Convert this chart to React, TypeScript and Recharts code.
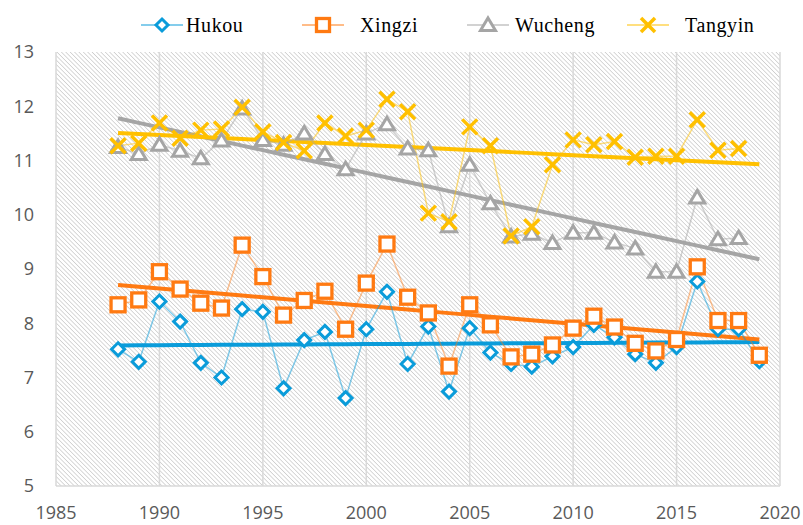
import React from 'react';
import { LineChart, Line, XAxis, YAxis, CartesianGrid, Legend } from 'recharts';

// annual values, 1988 - 2019
const years = [
  1988, 1989, 1990, 1991, 1992, 1993, 1994, 1995, 1996, 1997, 1998, 1999, 2000, 2001, 2002, 2003,
  2004, 2005, 2006, 2007, 2008, 2009, 2010, 2011, 2012, 2013, 2014, 2015, 2016, 2017, 2018, 2019,
];
const hukou = [
  7.52, 7.29, 8.4, 8.03, 7.27, 7.0, 8.26, 8.21, 6.8, 7.69, 7.84, 6.62, 7.89, 8.58, 7.25, 7.94,
  6.74, 7.91, 7.46, 7.25, 7.2, 7.39, 7.56, 7.97, 7.74, 7.43, 7.27, 7.56, 8.77, 7.89, 7.89, 7.3,
];
const xingzi = [
  8.34, 8.43, 8.95, 8.63, 8.37, 8.28, 9.44, 8.86, 8.15, 8.42, 8.59, 7.89, 8.74, 9.46, 8.48, 8.19,
  7.21, 8.34, 7.97, 7.38, 7.43, 7.6, 7.91, 8.13, 7.93, 7.63, 7.49, 7.7, 9.04, 8.05, 8.05, 7.41,
];
// Wucheng and Tangyin stop at 2018
const wucheng = [
  11.25, 11.12, 11.29, 11.18, 11.04, 11.37, 11.96, 11.38, 11.29, 11.5, 11.12, 10.84, 11.5, 11.67,
  11.22, 11.19, 9.79, 10.92, 10.21, 9.6, 9.65, 9.48, 9.67, 9.67, 9.49, 9.38, 8.95, 8.95, 10.32,
  9.55, 9.57,
];
const tangyin = [
  11.27, 11.32, 11.69, 11.41, 11.56, 11.58, 11.98, 11.53, 11.33, 11.18, 11.69, 11.45, 11.56, 12.13,
  11.9, 10.03, 9.87, 11.62, 11.27, 9.61, 9.78, 10.92, 11.38, 11.29, 11.35, 11.06, 11.08, 11.08,
  11.75, 11.19, 11.22,
];
const xTicks = [1985, 1990, 1995, 2000, 2005, 2010, 2015, 2020];
const yTicks = [5, 6, 7, 8, 9, 10, 11, 12, 13];

const HUKOU = '#0A9CDA';
const XINGZI = '#FF7A12';
const WUCHENG = '#A5A5A5';
const TANGYIN = '#FFC000';

// least squares line like the Excel trendline
const linearFit = (vals: number[]) => {
  const n = vals.length;
  const xs = years.slice(0, n);
  const mx = xs.reduce((s, v) => s + v, 0) / n;
  const my = vals.reduce((s, v) => s + v, 0) / n;
  let sxy = 0;
  let sxx = 0;
  xs.forEach((x, i) => {
    sxy += (x - mx) * (vals[i] - my);
    sxx += (x - mx) * (x - mx);
  });
  const b = sxy / sxx;
  return (x: number) => my + b * (x - mx);
};

const fitH = linearFit(hukou);
const fitX = linearFit(xingzi);
const fitW = linearFit(wucheng);
const fitT = linearFit(tangyin);

const data = years.map((year, i) => ({
  year,
  Hukou: hukou[i] ?? null,
  Xingzi: xingzi[i] ?? null,
  Wucheng: wucheng[i] ?? null,
  Tangyin: tangyin[i] ?? null,
  hTrend: fitH(year),
  xTrend: fitX(year),
  wTrend: fitW(year),
  tTrend: fitT(year),
}));

const ok = (p: any) => p.cx != null && p.cy != null && p.value != null && !isNaN(p.cy);

const diamondPath = (cx: number, cy: number, r: number) =>
  `M${cx},${cy - r}L${cx + r},${cy}L${cx},${cy + r}L${cx - r},${cy}Z`;
const trianglePath = (cx: number, cy: number) =>
  `M${cx},${cy - 7}L${cx + 7.5},${cy + 5.5}L${cx - 7.5},${cy + 5.5}Z`;

const DiamondDot = (p: any) =>
  ok(p) ? (
    <path key={p.index} d={diamondPath(p.cx, p.cy, 6.5)} fill="#fff" stroke={HUKOU} strokeWidth={3} />
  ) : null;

const SquareDot = (p: any) =>
  ok(p) ? (
    <rect key={p.index} x={p.cx - 7} y={p.cy - 7} width={14} height={14} fill="#fff" stroke={XINGZI} strokeWidth={3.3} />
  ) : null;

const TriangleDot = (p: any) =>
  ok(p) ? (
    <path key={p.index} d={trianglePath(p.cx, p.cy)} fill="#fff" stroke={WUCHENG} strokeWidth={3} strokeLinejoin="miter" />
  ) : null;

const CrossDot = (p: any) =>
  ok(p) ? (
    <g key={p.index} stroke={TANGYIN} strokeWidth={3.5}>
      <line x1={p.cx - 7.5} y1={p.cy - 7.5} x2={p.cx + 7.5} y2={p.cy + 7.5} />
      <line x1={p.cx - 7.5} y1={p.cy + 7.5} x2={p.cx + 7.5} y2={p.cy - 7.5} />
    </g>
  ) : null;

const legendEntries = [
  { name: 'Hukou', color: HUKOU, icon: 162, text: 186 },
  { name: 'Xingzi', color: XINGZI, icon: 323, text: 360 },
  { name: 'Wucheng', color: WUCHENG, icon: 488, text: 515 },
  { name: 'Tangyin', color: TANGYIN, icon: 648, text: 685 },
];

const legendIcon = (name: string, cx: number, cy: number) => {
  if (name === 'Hukou') return <path d={diamondPath(cx, cy, 6)} fill="#fff" stroke={HUKOU} strokeWidth={3} />;
  if (name === 'Xingzi')
    return <rect x={cx - 6.5} y={cy - 6.5} width={13} height={13} fill="#fff" stroke={XINGZI} strokeWidth={3.3} />;
  if (name === 'Wucheng') return <path d={trianglePath(cx, cy)} fill="#fff" stroke={WUCHENG} strokeWidth={3} />;
  return (
    <g stroke={TANGYIN} strokeWidth={3.5}>
      <line x1={cx - 7} y1={cy - 7} x2={cx + 7} y2={cy + 7} />
      <line x1={cx - 7} y1={cy + 7} x2={cx + 7} y2={cy - 7} />
    </g>
  );
};

const renderLegend = () => (
  <div style={{ position: 'relative', width: 803, height: 40 }}>
    <svg width={803} height={40} style={{ position: 'absolute', left: 0, top: 0 }}>
      {legendEntries.map((e) => (
        <g key={e.name}>
          <line x1={e.icon - 21} x2={e.icon + 21} y1={13} y2={13} stroke={e.color} strokeOpacity={0.5} strokeWidth={2} />
          {legendIcon(e.name, e.icon, 13)}
          <text
            x={e.text}
            y={13}
            dominantBaseline="central"
            style={{ fontFamily: '"Liberation Serif", serif', fontSize: 20, letterSpacing: 0.6 }}
            fill="#000"
          >
            {e.name}
          </text>
        </g>
      ))}
    </svg>
  </div>
);

const tickStyle = { fontFamily: '"Open Sans", sans-serif', fontSize: 18, fill: '#595959' };

const App = () => (
  <div style={{ width: 803, height: 525, background: '#fff' }}>
    <style>{'body{margin:0}'}</style>
    <LineChart width={803} height={525} data={data} margin={{ top: 12, right: 23, bottom: 0, left: 0 }}>
      <defs>
        <pattern id="hatch" width="3.1" height="3.1" patternUnits="userSpaceOnUse" patternTransform="rotate(-45)">
          <line x1="0" y1="0" x2="0" y2="3.1" stroke="#cdcdcd" strokeWidth={1.5} />
        </pattern>
      </defs>
      <CartesianGrid horizontal={false} stroke="#d9d9d9" strokeWidth={1.5} fill="url(#hatch)" />
      <XAxis
        dataKey="year"
        type="number"
        domain={[1985, 2020]}
        ticks={xTicks}
        height={39}
        tickSize={0}
        tickMargin={20}
        axisLine={{ stroke: '#d9d9d9', strokeWidth: 1.5 }}
        tickLine={false}
        tick={tickStyle}
        interval={0}
      />
      <YAxis
        type="number"
        domain={[5, 13]}
        ticks={yTicks}
        width={56}
        tickSize={0}
        tickMargin={22}
        axisLine={false}
        tickLine={false}
        tick={tickStyle}
        interval={0}
      />
      <Legend verticalAlign="top" align="left" content={renderLegend} />
      <Line dataKey="hTrend" stroke={HUKOU} strokeWidth={4} dot={false} activeDot={false} legendType="none" isAnimationActive={false} />
      <Line dataKey="xTrend" stroke={XINGZI} strokeWidth={4} dot={false} activeDot={false} legendType="none" isAnimationActive={false} />
      <Line dataKey="wTrend" stroke={WUCHENG} strokeWidth={4} dot={false} activeDot={false} legendType="none" isAnimationActive={false} />
      <Line dataKey="tTrend" stroke={TANGYIN} strokeWidth={4} dot={false} activeDot={false} legendType="none" isAnimationActive={false} />
      <Line dataKey="Hukou" stroke={HUKOU} strokeOpacity={0.5} strokeWidth={1.5} dot={DiamondDot} activeDot={false} isAnimationActive={false} />
      <Line dataKey="Xingzi" stroke={XINGZI} strokeOpacity={0.45} strokeWidth={1.5} dot={SquareDot} activeDot={false} isAnimationActive={false} />
      <Line dataKey="Wucheng" stroke={WUCHENG} strokeOpacity={0.5} strokeWidth={1.5} dot={TriangleDot} activeDot={false} isAnimationActive={false} />
      <Line dataKey="Tangyin" stroke={TANGYIN} strokeOpacity={0.5} strokeWidth={1.5} dot={CrossDot} activeDot={false} isAnimationActive={false} />
    </LineChart>
  </div>
);

export default App;
